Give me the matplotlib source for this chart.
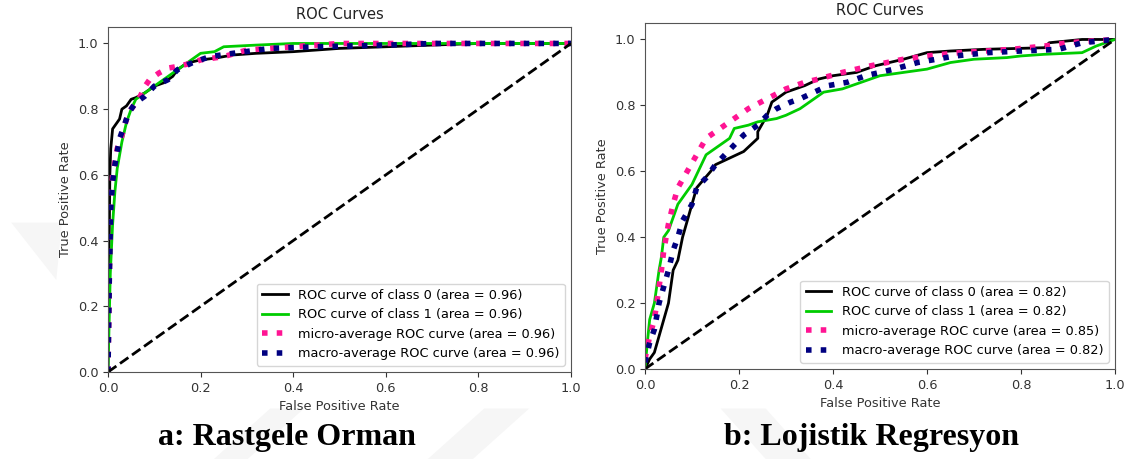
import matplotlib.pyplot as plt
from matplotlib.patches import Polygon

# --- a: Rastgele Orman (random forest) ---
rf_fpr0 = [0, 0.004, 0.006, 0.01, 0.02, 0.025, 0.03, 0.04, 0.05, 0.06, 0.08, 0.1, 0.12, 0.14, 0.15, 0.17, 0.2, 0.23, 0.27, 0.32, 0.4, 0.5, 0.6, 0.7, 0.8, 1.0]
rf_tpr0 = [0, 0.6, 0.68, 0.74, 0.76, 0.77, 0.8, 0.81, 0.83, 0.835, 0.85, 0.87, 0.88, 0.9, 0.92, 0.94, 0.95, 0.955, 0.965, 0.97, 0.975, 0.985, 0.99, 0.995, 1.0, 1.0]
rf_fpr1 = [0, 0.005, 0.01, 0.015, 0.02, 0.03, 0.04, 0.05, 0.06, 0.08, 0.1, 0.13, 0.15, 0.18, 0.2, 0.23, 0.25, 0.32, 0.4, 1.0]
rf_tpr1 = [0, 0.3, 0.45, 0.55, 0.62, 0.7, 0.76, 0.8, 0.83, 0.85, 0.87, 0.9, 0.92, 0.95, 0.97, 0.975, 0.99, 0.995, 1.0, 1.0]
rf_fpr_mi = [0, 0.003, 0.005, 0.01, 0.02, 0.03, 0.04, 0.05, 0.07, 0.08, 0.09, 0.11, 0.13, 0.15, 0.18, 0.2, 0.25, 0.3, 0.4, 0.5, 1.0]
rf_tpr_mi = [0, 0.3, 0.5, 0.6, 0.68, 0.72, 0.77, 0.8, 0.84, 0.87, 0.89, 0.91, 0.925, 0.93, 0.94, 0.95, 0.96, 0.98, 0.99, 1.0, 1.0]
rf_fpr_ma = [0, 0.003, 0.006, 0.01, 0.015, 0.02, 0.025, 0.035, 0.045, 0.06, 0.08, 0.1, 0.13, 0.15, 0.18, 0.22, 0.27, 0.35, 0.45, 0.6, 0.7, 1.0]
rf_tpr_ma = [0, 0.3, 0.5, 0.58, 0.63, 0.67, 0.71, 0.75, 0.79, 0.82, 0.84, 0.87, 0.89, 0.92, 0.94, 0.96, 0.97, 0.985, 0.99, 0.995, 1.0, 1.0]
rf_auc = [0.96, 0.96, 0.96, 0.96]

# --- b: Lojistik Regresyon (logistic regression) ---
lr_fpr0 = [0, 0.01, 0.02, 0.03, 0.04, 0.05, 0.06, 0.07, 0.08, 0.09, 0.1, 0.11, 0.14, 0.15, 0.18, 0.21, 0.24, 0.24, 0.26, 0.27, 0.3, 0.34, 0.37, 0.4, 0.45, 0.49, 0.55, 0.6, 0.65, 0.72, 0.85, 0.86, 0.93, 1.0]
lr_tpr0 = [0, 0.03, 0.05, 0.1, 0.15, 0.2, 0.3, 0.33, 0.4, 0.45, 0.5, 0.55, 0.6, 0.62, 0.64, 0.66, 0.7, 0.72, 0.77, 0.81, 0.84, 0.86, 0.88, 0.89, 0.9, 0.92, 0.94, 0.96, 0.965, 0.97, 0.975, 0.99, 1.0, 1.0]
lr_fpr1 = [0, 0.005, 0.01, 0.02, 0.03, 0.035, 0.04, 0.05, 0.07, 0.08, 0.1, 0.12, 0.13, 0.16, 0.18, 0.19, 0.22, 0.24, 0.28, 0.3, 0.33, 0.36, 0.38, 0.42, 0.46, 0.5, 0.55, 0.6, 0.65, 0.7, 0.77, 0.8, 0.85, 0.93, 0.96, 1.0]
lr_tpr1 = [0, 0.08, 0.15, 0.2, 0.3, 0.34, 0.4, 0.42, 0.5, 0.52, 0.56, 0.62, 0.65, 0.68, 0.7, 0.73, 0.74, 0.75, 0.76, 0.77, 0.79, 0.82, 0.84, 0.85, 0.87, 0.89, 0.9, 0.91, 0.93, 0.94, 0.945, 0.95, 0.955, 0.96, 0.98, 1.0]
lr_fpr_mi = [0, 0.01, 0.02, 0.025, 0.035, 0.04, 0.05, 0.06, 0.07, 0.09, 0.11, 0.13, 0.16, 0.19, 0.22, 0.26, 0.3, 0.34, 0.37, 0.42, 0.48, 0.55, 0.6, 0.67, 0.78, 0.85, 0.9, 1.0]
lr_tpr_mi = [0.03, 0.1, 0.15, 0.2, 0.3, 0.36, 0.44, 0.5, 0.55, 0.6, 0.65, 0.7, 0.73, 0.76, 0.79, 0.82, 0.85, 0.87, 0.88, 0.9, 0.92, 0.94, 0.95, 0.96, 0.97, 0.98, 0.99, 1.0]
lr_fpr_ma = [0, 0.01, 0.02, 0.03, 0.04, 0.05, 0.06, 0.07, 0.08, 0.1, 0.11, 0.13, 0.15, 0.17, 0.19, 0.21, 0.24, 0.26, 0.28, 0.31, 0.33, 0.36, 0.39, 0.43, 0.47, 0.53, 0.58, 0.66, 0.73, 0.8, 0.88, 0.93, 1.0]
lr_tpr_ma = [0.02, 0.08, 0.12, 0.2, 0.25, 0.3, 0.36, 0.4, 0.45, 0.5, 0.55, 0.58, 0.62, 0.65, 0.68, 0.71, 0.74, 0.77, 0.79, 0.81, 0.82, 0.84, 0.86, 0.87, 0.89, 0.91, 0.93, 0.95, 0.96, 0.965, 0.97, 0.99, 1.0]
lr_auc = [0.82, 0.82, 0.85, 0.82]

ticks = [0.0, 0.2, 0.4, 0.6, 0.8, 1.0]


def roc_panel(ax, curves, aucs):
    labels = ['ROC curve of class 0 (area = {:0.2f})',
              'ROC curve of class 1 (area = {:0.2f})',
              'micro-average ROC curve (area = {:0.2f})',
              'macro-average ROC curve (area = {:0.2f})']
    styles = [dict(color='black', lw=2, ls='-'),
              dict(color=(0.0, 0.8, 0.0), lw=2, ls='-'),
              dict(color='deeppink', lw=4, ls=':'),
              dict(color='navy', lw=4, ls=':')]
    for (fpr, tpr), auc, lab, st in zip(curves, aucs, labels, styles):
        ax.plot(fpr, tpr, label=lab.format(auc), **st)
    ax.plot([0, 1], [0, 1], 'k--', lw=2)
    ax.set_xlim(0.0, 1.0)
    ax.set_ylim(0.0, 1.05)
    ax.set_xticks(ticks)
    ax.set_yticks(ticks)
    ax.tick_params(labelsize=9.3, colors='#333333')
    for s in ax.spines.values():
        s.set_color('#555555')
    ax.set_title('ROC Curves', fontsize=10.5, color='#222222')
    ax.set_xlabel('False Positive Rate', fontsize=9.3, color='#333333')
    ax.set_ylabel('True Positive Rate', fontsize=9.3, color='#333333')
    ax.legend(loc='lower right', fontsize=9.3)


fig = plt.figure(figsize=(11.26, 4.59), dpi=100)

# faint watermark shapes behind the panels
wm = [[(0.01, 0.515), (0.055, 0.515), (0.05, 0.39)],
      [(0.19, 0.0), (0.22, 0.0), (0.27, 0.11), (0.24, 0.11)],
      [(0.38, 0.0), (0.42, 0.0), (0.47, 0.11), (0.43, 0.11)],
      [(0.64, 0.11), (0.68, 0.11), (0.72, 0.0), (0.68, 0.0)]]
for pts in wm:
    fig.patches.append(Polygon(pts, closed=True, transform=fig.transFigure,
                               facecolor='#f6f6f6', edgecolor='none', zorder=-5))

ax1 = fig.add_axes([0.0959, 0.1895, 0.4112, 0.7516])
roc_panel(ax1, [(rf_fpr0, rf_tpr0), (rf_fpr1, rf_tpr1),
                (rf_fpr_mi, rf_tpr_mi), (rf_fpr_ma, rf_tpr_ma)], rf_auc)

ax2 = fig.add_axes([0.5728, 0.1961, 0.4174, 0.7538])
roc_panel(ax2, [(lr_fpr0, lr_tpr0), (lr_fpr1, lr_tpr1),
                (lr_fpr_mi, lr_tpr_mi), (lr_fpr_ma, lr_tpr_ma)], lr_auc)

fig.text(287 / 1126, 1 - 437 / 459, 'a: Rastgele Orman', ha='center', va='center',
         fontsize=23, fontweight='bold', family='Liberation Serif')
fig.text(871 / 1126, 1 - 437 / 459, 'b: Lojistik Regresyon', ha='center', va='center',
         fontsize=23, fontweight='bold', family='Liberation Serif')

fig.savefig('out.png', dpi=100)
